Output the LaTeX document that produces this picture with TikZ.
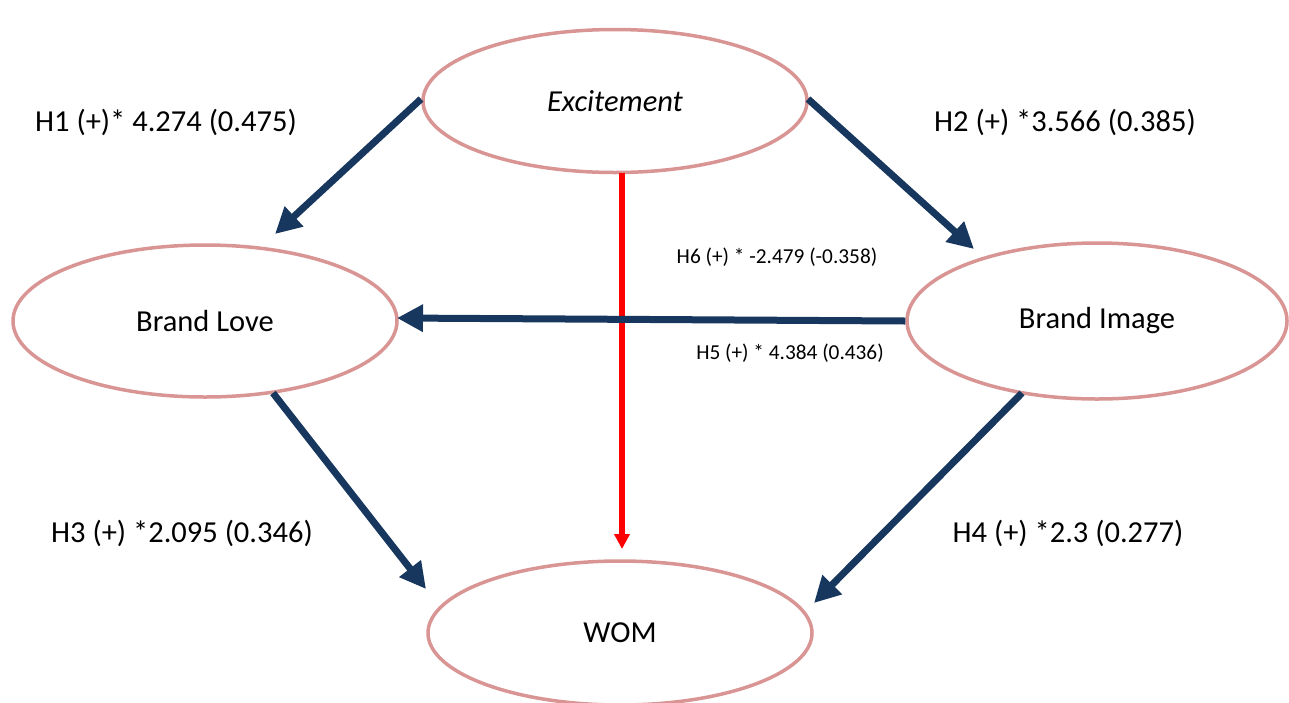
\documentclass[tikz,border=0pt]{standalone}
\usepackage{fontspec}
\setmainfont{Carlito}
\usetikzlibrary{arrows.meta,shapes.geometric}
\definecolor{ringc}{HTML}{D99594}
\definecolor{navy}{HTML}{17375E}
\definecolor{redc}{HTML}{FF0000}
\begin{document}
\begin{tikzpicture}[x=1pt,y=-1pt,
  construct/.style={ellipse,draw=ringc,line width=3.5pt,minimum width=#1,fill=white},
  path/.style={draw=navy,line width=7pt,-{Triangle[length=26pt,width=26pt]}},
  redpath/.style={draw=redc,line width=6pt,-{Triangle[length=15pt,width=15pt]}},
  big/.style={font=\fontsize{30.5}{36}\selectfont},
  small/.style={font=\fontsize{21.3}{25}\selectfont}]
\useasboundingbox (0,0) rectangle (1289,702);
\node[construct=384pt,minimum height=143pt,big] (ex) at (615,101) {\itshape Excitement};
\node[construct=384pt,minimum height=152pt,big] (bl) at (205,321) {Brand Love};
\node[construct=380pt,minimum height=156pt,big] (bi) at (1097,321) {Brand Image};
\node[construct=384pt,minimum height=144pt,big] (wom) at (620,633) {WOM};
\coordinate (t1) at (275,234);
\coordinate (t2) at (974,249);
\coordinate (t3) at (426,589);
\coordinate (t4) at (814,603);
\coordinate (t5) at (397,318);
\coordinate (t6) at (622,549);
\coordinate (s1) at (421,99);
\coordinate (s2) at (808,99);
\coordinate (s3) at (273,393);
\coordinate (s4) at (1022,393);
\coordinate (s6) at (622,173);
\draw[redpath] (s6) -- (t6);
\draw[path] (bi.west) -- (t5);
\draw[path] (s1) -- (t1);
\draw[path] (s2) -- (t2);
\draw[path] (s3) -- (t3);
\draw[path] (s4) -- (t4);
\node[big] (h1) at (166,122) {H1 (+)* 4.274 (0.475)};
\node[big] (h2) at (1065,122) {H2 (+) *3.566 (0.385)};
\node[small] (h6) at (777,257) {H6 (+) * -2.479 (-0.358)};
\node[small] (h5) at (790,353) {H5 (+) * 4.384 (0.436)};
\node[big] (h3) at (182,533) {H3 (+) *2.095 (0.346)};
\node[big] (h4) at (1068,533) {H4 (+) *2.3 (0.277)};
\end{tikzpicture}
\end{document}
